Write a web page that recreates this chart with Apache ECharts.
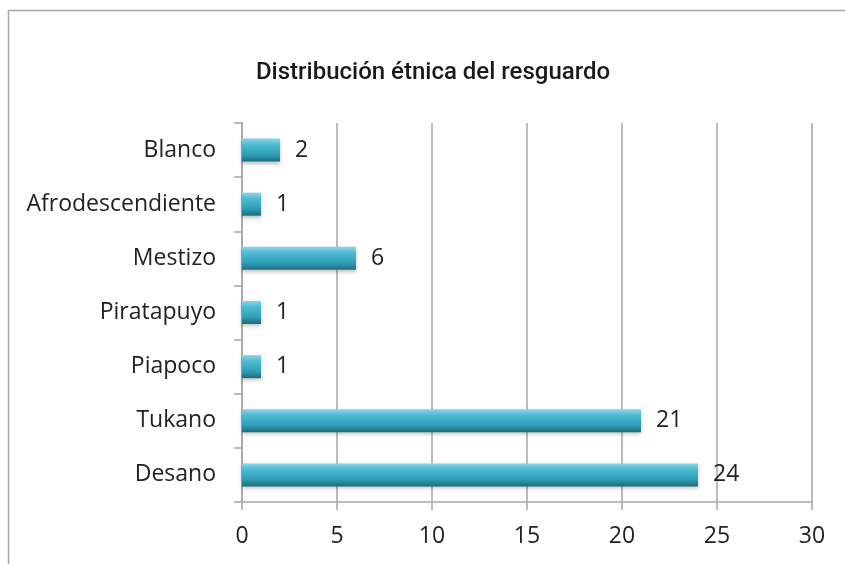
<!DOCTYPE html>
<html>
<head>
<meta charset="utf-8">
<script src="https://cdn.jsdelivr.net/npm/echarts@6/dist/echarts.min.js"></script>
<style>html,body{margin:0;padding:0;background:#fff}#c{width:845px;height:564px}</style>
</head>
<body>
<div id="c"></div>
<script>
const categories = ["Desano", "Tukano", "Piapoco", "Piratapuyo", "Mestizo", "Afrodescendiente", "Blanco"];
const values = [24, 21, 1, 1, 6, 1, 2];
const xTicks = [0, 5, 10, 15, 20, 25, 30];
const titleText = "Distribución étnica del resguardo";

const chart = echarts.init(document.getElementById('c'), null, {renderer: 'canvas'});
const labelFont = '"Open Sans", sans-serif';
chart.setOption({
  animation: false,
  backgroundColor: '#fff',
  title: {
    text: titleText,
    left: 428, top: 56, textAlign: 'center',
    textStyle: {fontFamily: 'Roboto, sans-serif', fontWeight: 500, fontSize: 24, color: '#1a1a1a'}
  },
  graphic: [{
    type: 'rect', shape: {x: 8.5, y: 10.5, width: 900, height: 700},
    style: {fill: 'none', stroke: '#a6a6a6', lineWidth: 1.5}, silent: true
  }],
  grid: {left: 242, right: 33, top: 123, bottom: 62, containLabel: false},
  xAxis: {
    type: 'value', min: xTicks[0], max: xTicks[xTicks.length - 1], interval: 5,
    axisLine: {show: true, lineStyle: {color: '#a6a6a6', width: 1.5}},
    axisTick: {show: true, length: 8, lineStyle: {color: '#a6a6a6', width: 1.5}},
    splitLine: {show: true, lineStyle: {color: '#a6a6a6', width: 1.5}},
    axisLabel: {margin: 23, fontFamily: labelFont, fontSize: 23, color: '#222'}
  },
  yAxis: {
    type: 'category', data: categories,
    axisLine: {show: true, lineStyle: {color: '#a6a6a6', width: 1.5}},
    axisTick: {show: true, length: 8, lineStyle: {color: '#a6a6a6', width: 1.5}},
    axisLabel: {margin: 26, padding: [4, 0, 0, 0], fontFamily: labelFont, fontSize: 23, color: '#222'}
  },
  series: [{
    type: 'bar', data: values, barWidth: 23,
    itemStyle: {
      color: new echarts.graphic.LinearGradient(0, 0, 0, 1, [
        {offset: 0, color: '#8dd6e6'},
        {offset: 0.25, color: '#4fbcd4'},
        {offset: 0.7, color: '#2f9db5'},
        {offset: 1, color: '#1d6b7d'}
      ]),
      shadowColor: 'rgba(0,0,0,0.25)', shadowBlur: 4, shadowOffsetY: 2
    },
    label: {show: true, position: 'right', distance: 15, padding: [3, 0, 0, 0], fontFamily: labelFont, fontSize: 23, color: '#222'}
  }]
});
</script>
</body>
</html>
